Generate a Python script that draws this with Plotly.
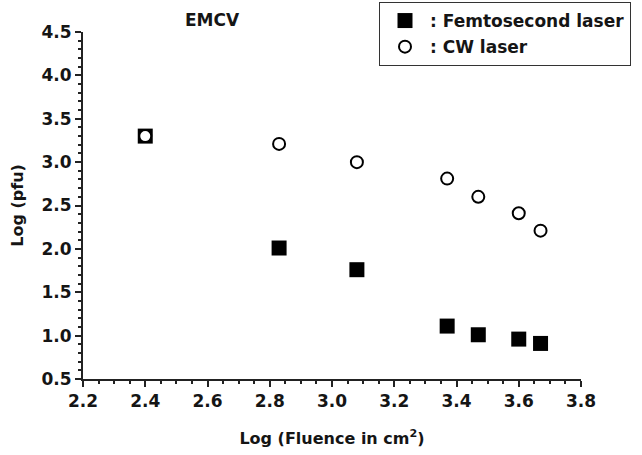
import plotly.graph_objects as go

fluence_femto = [2.40, 2.83, 3.08, 3.37, 3.47, 3.60, 3.67]
pfu_femto = [3.30, 2.01, 1.76, 1.11, 1.01, 0.96, 0.91]
fluence_cw = [2.40, 2.83, 3.08, 3.37, 3.47, 3.60, 3.67]
pfu_cw = [3.30, 3.21, 3.00, 2.81, 2.60, 2.41, 2.21]

FONT = "DejaVu Sans, Verdana, sans-serif"
TXT = "#151515"
W, H = 642, 455
L, R, T, B = 83, 61, 32, 76


def bold(s):
    return "<b>" + s + "</b>"


fig = go.Figure()
fig.add_trace(go.Scatter(
    x=fluence_femto, y=pfu_femto, mode="markers", name=bold(": Femtosecond laser"),
    legendgroup="a",
    marker=dict(symbol="square", size=15, color="black", line=dict(width=0)),
))
fig.add_trace(go.Scatter(
    x=fluence_cw, y=pfu_cw, mode="markers", name=bold(": CW laser"),
    legendgroup="b",
    marker=dict(symbol="circle", size=12, color="white", line=dict(width=2, color="black")),
))

axis_common = dict(
    showline=True, linecolor="#222", linewidth=2, mirror=False,
    ticks="outside", ticklen=6, tickwidth=1.5, tickcolor="#222",
    showgrid=False, zeroline=False,
    tickfont=dict(family=FONT, size=17, color=TXT, weight="bold"),
    minor=dict(ticks="outside", ticklen=3, tickwidth=1.5, tickcolor="#222"),
)

fig.update_layout(
    width=W, height=H,
    margin=dict(l=L, r=R, t=T, b=B, autoexpand=False),
    paper_bgcolor="white", plot_bgcolor="white",
    xaxis=dict(range=[2.2, 3.8], tick0=2.2, dtick=0.2, tickformat=".1f",
               title=dict(text=bold("Log (Fluence in cm<sup>2</sup>)"),
                          font=dict(family=FONT, size=16, color=TXT), standoff=22),
               **axis_common),
    yaxis=dict(range=[0.5, 4.5], tick0=0.5, dtick=0.5, tickformat=".1f",
               title=dict(text=bold("Log (pfu)"), font=dict(family=FONT, size=16, color=TXT), standoff=14),
               **axis_common),
    legend=dict(xref="container", yref="container",
                x=379 / W, y=1 - 2 / H, xanchor="left", yanchor="top",
                bordercolor="#333", borderwidth=1, bgcolor="white",
                font=dict(family=FONT, size=17, color=TXT),
                itemwidth=40, tracegroupgap=1),
    annotations=[dict(text=bold("EMCV"), x=(212 - L) / (W - L - R), y=(H - B - 20) / (H - T - B),
                      xref="paper", yref="paper", xanchor="center", yanchor="middle",
                      showarrow=False, font=dict(family=FONT, size=17, color=TXT))],
)

fig.write_html("out.html")
